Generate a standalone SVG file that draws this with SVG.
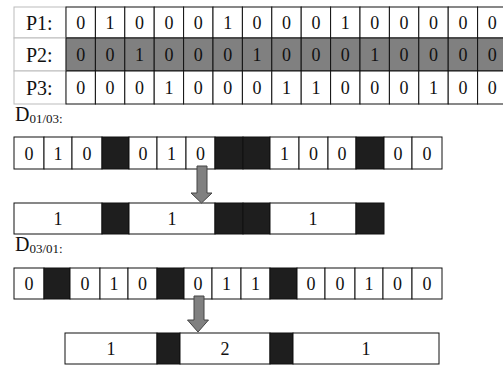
<svg xmlns="http://www.w3.org/2000/svg" width="503" height="366" viewBox="0 0 503 366">
<defs>
<style>
.c{fill:#fff;stroke:#111;stroke-width:1}
.g{fill:#808080;stroke:#111;stroke-width:1}
.b{fill:#1e1e1e;stroke:#111;stroke-width:1}
.l{fill:#fff;stroke:#bbb;stroke-width:1}
.t{font-family:"Liberation Serif","DejaVu Serif",serif;font-size:18px;fill:#111;text-anchor:middle}
.lab{font-family:"Liberation Serif","DejaVu Serif",serif;font-size:20px;fill:#111}
.sub{font-family:"Liberation Serif","DejaVu Serif",serif;font-size:13px;fill:#111}
.arr{fill:#808080;stroke:#444;stroke-width:1}
</style>
</defs>
<rect width="503" height="366" fill="#fff"/>

<g id="P1">
<rect class="l" x="14" y="7" width="52" height="31"/>
<text class="lab" x="26" y="30">P1:</text>
<g>
<rect class="c" x="66" y="7" width="29.4" height="31"/><rect class="c" x="95.4" y="7" width="29.4" height="31"/><rect class="c" x="124.8" y="7" width="29.4" height="31"/><rect class="c" x="154.2" y="7" width="29.4" height="31"/><rect class="c" x="183.6" y="7" width="29.4" height="31"/><rect class="c" x="213" y="7" width="29.4" height="31"/><rect class="c" x="242.4" y="7" width="29.4" height="31"/><rect class="c" x="271.8" y="7" width="29.4" height="31"/><rect class="c" x="301.2" y="7" width="29.4" height="31"/><rect class="c" x="330.6" y="7" width="29.4" height="31"/><rect class="c" x="360" y="7" width="29.4" height="31"/><rect class="c" x="389.4" y="7" width="29.4" height="31"/><rect class="c" x="418.8" y="7" width="29.4" height="31"/><rect class="c" x="448.2" y="7" width="29.4" height="31"/><rect class="c" x="477.6" y="7" width="29.4" height="31"/>
</g>
<text class="t" y="29"><tspan x="80.7">0</tspan><tspan x="110.1">1</tspan><tspan x="139.5">0</tspan><tspan x="168.9">0</tspan><tspan x="198.3">0</tspan><tspan x="227.7">1</tspan><tspan x="257.1">0</tspan><tspan x="286.5">0</tspan><tspan x="315.9">0</tspan><tspan x="345.3">1</tspan><tspan x="374.7">0</tspan><tspan x="404.1">0</tspan><tspan x="433.5">0</tspan><tspan x="462.9">0</tspan><tspan x="492.3">0</tspan></text>
</g>

<g id="P2">
<rect class="l" x="14" y="38" width="52" height="33"/>
<text class="lab" x="26" y="62">P2:</text>
<g>
<rect class="g" x="66" y="38" width="29.4" height="33"/><rect class="g" x="95.4" y="38" width="29.4" height="33"/><rect class="g" x="124.8" y="38" width="29.4" height="33"/><rect class="g" x="154.2" y="38" width="29.4" height="33"/><rect class="g" x="183.6" y="38" width="29.4" height="33"/><rect class="g" x="213" y="38" width="29.4" height="33"/><rect class="g" x="242.4" y="38" width="29.4" height="33"/><rect class="g" x="271.8" y="38" width="29.4" height="33"/><rect class="g" x="301.2" y="38" width="29.4" height="33"/><rect class="g" x="330.6" y="38" width="29.4" height="33"/><rect class="g" x="360" y="38" width="29.4" height="33"/><rect class="g" x="389.4" y="38" width="29.4" height="33"/><rect class="g" x="418.8" y="38" width="29.4" height="33"/><rect class="g" x="448.2" y="38" width="29.4" height="33"/><rect class="g" x="477.6" y="38" width="29.4" height="33"/>
</g>
<text class="t" y="61"><tspan x="80.7">0</tspan><tspan x="110.1">0</tspan><tspan x="139.5">1</tspan><tspan x="168.9">0</tspan><tspan x="198.3">0</tspan><tspan x="227.7">0</tspan><tspan x="257.1">1</tspan><tspan x="286.5">0</tspan><tspan x="315.9">0</tspan><tspan x="345.3">0</tspan><tspan x="374.7">1</tspan><tspan x="404.1">0</tspan><tspan x="433.5">0</tspan><tspan x="462.9">0</tspan><tspan x="492.3">0</tspan></text>
</g>

<g id="P3">
<rect class="l" x="14" y="71" width="52" height="33"/>
<text class="lab" x="26" y="95">P3:</text>
<g>
<rect class="c" x="66" y="71" width="29.4" height="33"/><rect class="c" x="95.4" y="71" width="29.4" height="33"/><rect class="c" x="124.8" y="71" width="29.4" height="33"/><rect class="c" x="154.2" y="71" width="29.4" height="33"/><rect class="c" x="183.6" y="71" width="29.4" height="33"/><rect class="c" x="213" y="71" width="29.4" height="33"/><rect class="c" x="242.4" y="71" width="29.4" height="33"/><rect class="c" x="271.8" y="71" width="29.4" height="33"/><rect class="c" x="301.2" y="71" width="29.4" height="33"/><rect class="c" x="330.6" y="71" width="29.4" height="33"/><rect class="c" x="360" y="71" width="29.4" height="33"/><rect class="c" x="389.4" y="71" width="29.4" height="33"/><rect class="c" x="418.8" y="71" width="29.4" height="33"/><rect class="c" x="448.2" y="71" width="29.4" height="33"/><rect class="c" x="477.6" y="71" width="29.4" height="33"/>
</g>
<text class="t" y="94"><tspan x="80.7">0</tspan><tspan x="110.1">0</tspan><tspan x="139.5">0</tspan><tspan x="168.9">1</tspan><tspan x="198.3">0</tspan><tspan x="227.7">0</tspan><tspan x="257.1">0</tspan><tspan x="286.5">1</tspan><tspan x="315.9">1</tspan><tspan x="345.3">0</tspan><tspan x="374.7">0</tspan><tspan x="404.1">0</tspan><tspan x="433.5">1</tspan><tspan x="462.9">0</tspan><tspan x="492.3">0</tspan></text>
</g>

<g id="D0103-label">
<text x="15" y="121"><tspan class="lab" font-size="22">D</tspan><tspan class="sub" dy="2">01/03:</tspan></text>
</g>

<g id="D0103-row">
<rect class="c" x="14" y="137" width="30" height="32"/>
<rect class="c" x="44" y="137" width="28" height="32"/>
<rect class="c" x="72" y="137" width="30" height="32"/>
<rect class="b" x="102" y="137" width="27" height="32"/>
<rect class="c" x="129" y="137" width="28" height="32"/>
<rect class="c" x="157" y="137" width="29" height="32"/>
<rect class="c" x="186" y="137" width="29" height="32"/>
<rect class="b" x="215" y="137" width="28" height="32"/>
<rect class="b" x="243" y="137" width="27" height="32"/>
<rect class="c" x="270" y="137" width="29" height="32"/>
<rect class="c" x="299" y="137" width="29" height="32"/>
<rect class="c" x="328" y="137" width="28" height="32"/>
<rect class="b" x="356" y="137" width="28" height="32"/>
<rect class="c" x="384" y="137" width="28" height="32"/>
<rect class="c" x="412" y="137" width="30" height="32"/>
<text class="t" y="160"><tspan x="29">0</tspan><tspan x="58">1</tspan><tspan x="87">0</tspan><tspan x="143">0</tspan><tspan x="171.5">1</tspan><tspan x="200.5">0</tspan><tspan x="284.5">1</tspan><tspan x="313.5">0</tspan><tspan x="342">0</tspan><tspan x="398">0</tspan><tspan x="427">0</tspan></text>
</g>

<g id="D0103-merged">
<rect class="c" x="14" y="203" width="88" height="31"/>
<rect class="b" x="102" y="203" width="27" height="31"/>
<rect class="c" x="129" y="203" width="86" height="31"/>
<rect class="b" x="215" y="203" width="28" height="31"/>
<rect class="b" x="243" y="203" width="27" height="31"/>
<rect class="c" x="270" y="203" width="86" height="31"/>
<rect class="b" x="356" y="203" width="28" height="31"/>
<text class="t" y="225"><tspan x="58">1</tspan><tspan x="172">1</tspan><tspan x="313">1</tspan></text>
</g>

<g id="D0301-label">
<text x="15" y="251"><tspan class="lab" font-size="22">D</tspan><tspan class="sub" dy="2">03/01:</tspan></text>
</g>

<g id="D0301-row">
<rect class="c" x="14" y="268" width="30" height="31"/>
<rect class="b" x="44" y="268" width="26" height="31"/>
<rect class="c" x="70" y="268" width="30" height="31"/>
<rect class="c" x="100" y="268" width="28" height="31"/>
<rect class="c" x="128" y="268" width="29" height="31"/>
<rect class="b" x="157" y="268" width="27" height="31"/>
<rect class="c" x="184" y="268" width="28" height="31"/>
<rect class="c" x="212" y="268" width="29" height="31"/>
<rect class="c" x="241" y="268" width="29" height="31"/>
<rect class="b" x="270" y="268" width="27" height="31"/>
<rect class="c" x="297" y="268" width="28" height="31"/>
<rect class="c" x="325" y="268" width="30" height="31"/>
<rect class="c" x="355" y="268" width="28" height="31"/>
<rect class="c" x="383" y="268" width="29" height="31"/>
<rect class="c" x="412" y="268" width="30" height="31"/>
<text class="t" y="290"><tspan x="29">0</tspan><tspan x="85">0</tspan><tspan x="114">1</tspan><tspan x="142.5">0</tspan><tspan x="198">0</tspan><tspan x="226.5">1</tspan><tspan x="255.5">1</tspan><tspan x="311">0</tspan><tspan x="340">0</tspan><tspan x="369">1</tspan><tspan x="397.5">0</tspan><tspan x="427">0</tspan></text>
</g>

<g id="D0301-merged">
<rect class="c" x="65" y="333" width="92" height="31"/>
<rect class="b" x="157" y="333" width="23" height="31"/>
<rect class="c" x="180" y="333" width="90" height="31"/>
<rect class="b" x="270" y="333" width="23" height="31"/>
<rect class="c" x="293" y="333" width="146" height="31"/>
<text class="t" y="355"><tspan x="111">1</tspan><tspan x="225">2</tspan><tspan x="366">1</tspan></text>
</g>

<g id="connectors">
<path class="arr" d="M197,166 H207 V193 H212 L201.5,203 L191,193 H197 Z"/>
<path class="arr" d="M194,296 H204 V320 H208.5 L198,332 L187.5,320 H194 Z"/>
</g>
</svg>
